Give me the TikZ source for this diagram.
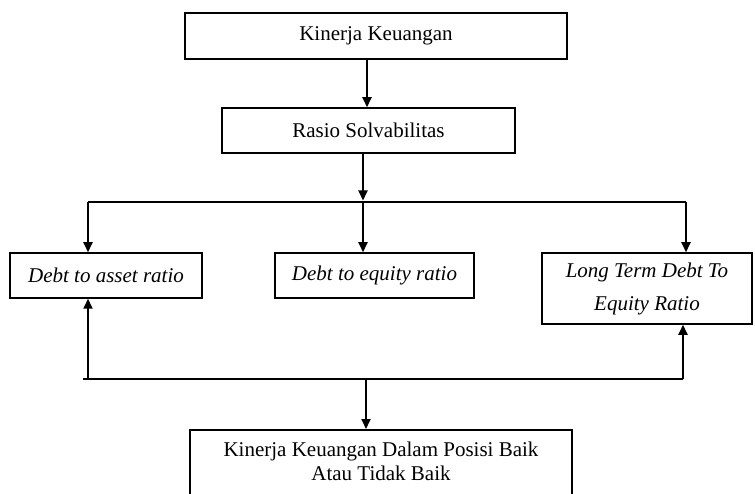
\documentclass[tikz,border=0pt]{standalone}
\usepackage{fontspec}
\setmainfont{Liberation Serif}
\usetikzlibrary{arrows.meta}
\begin{document}
\begin{tikzpicture}[x=1pt,y=-1pt,
  box/.style={draw=black, line width=1.5pt, rectangle, inner sep=0pt, font=\fontsize{21}{33}\selectfont, align=center},
  arr/.style={line width=1.8pt, -{Triangle[length=10pt,width=9pt]}},
  ln/.style={line width=1.5pt}]
\useasboundingbox (0,0) rectangle (755,494);
\clip (0,0) rectangle (755,494);
\node[box, minimum width=382pt, minimum height=46pt] (top) at (376,36) {Kinerja Keuangan};
\node[box, minimum width=293pt, minimum height=45pt] (rasio) at (368.5,130.5) {Rasio Solvabilitas};
\node[box, minimum width=192pt, minimum height=45pt] (dar) at (106,275.5) {\itshape Debt to asset ratio};
\node[box, minimum width=199pt, minimum height=45pt] (der) at (374.5,275.5) {\itshape Debt to equity ratio};
\node[box, minimum width=210pt, minimum height=71pt] (ltd) at (647,288.5) {\itshape Long Term Debt To\\\itshape Equity Ratio};
\node[box, anchor=north, minimum width=382pt, minimum height=100pt] (bot) at (381,429) {};
\node[font=\fontsize{21}{24}\selectfont, align=center, inner sep=0pt] (bottxt) at (381,461) {Kinerja Keuangan Dalam Posisi Baik\\Atau Tidak Baik};
\coordinate (xa) at (367,0);
\coordinate (xm) at (363,0);
\coordinate (xl) at (88,0);
\coordinate (xr) at (686,0);
\coordinate (xru) at (683,0);
\coordinate (xb) at (366,0);
\coordinate (j1) at (363,202);
\coordinate (j1a) at (363,200.5);
\coordinate (jl) at (88,202);
\coordinate (jr) at (686,202);
\coordinate (bl) at (83,379);
\coordinate (br) at (683,379);
\coordinate (bm) at (366,379);
\draw[arr] (top.south -| xa) -- (rasio.north -| xa);
\draw[arr] (rasio.south -| xm) -- (j1a);
\draw[ln] (jl) -- (jr);
\draw[arr] (jl) -- (dar.north -| xl);
\draw[arr] (j1) -- (der.north -| xm);
\draw[arr] (jr) -- (ltd.north -| xr);
\draw[ln] (bl) -- (br);
\draw[arr] (bl -| xl) -- (dar.south -| xl);
\draw[arr] (br) -- (ltd.south -| xru);
\draw[arr] (bm) -- (bot.north -| xb);
\end{tikzpicture}
\end{document}
